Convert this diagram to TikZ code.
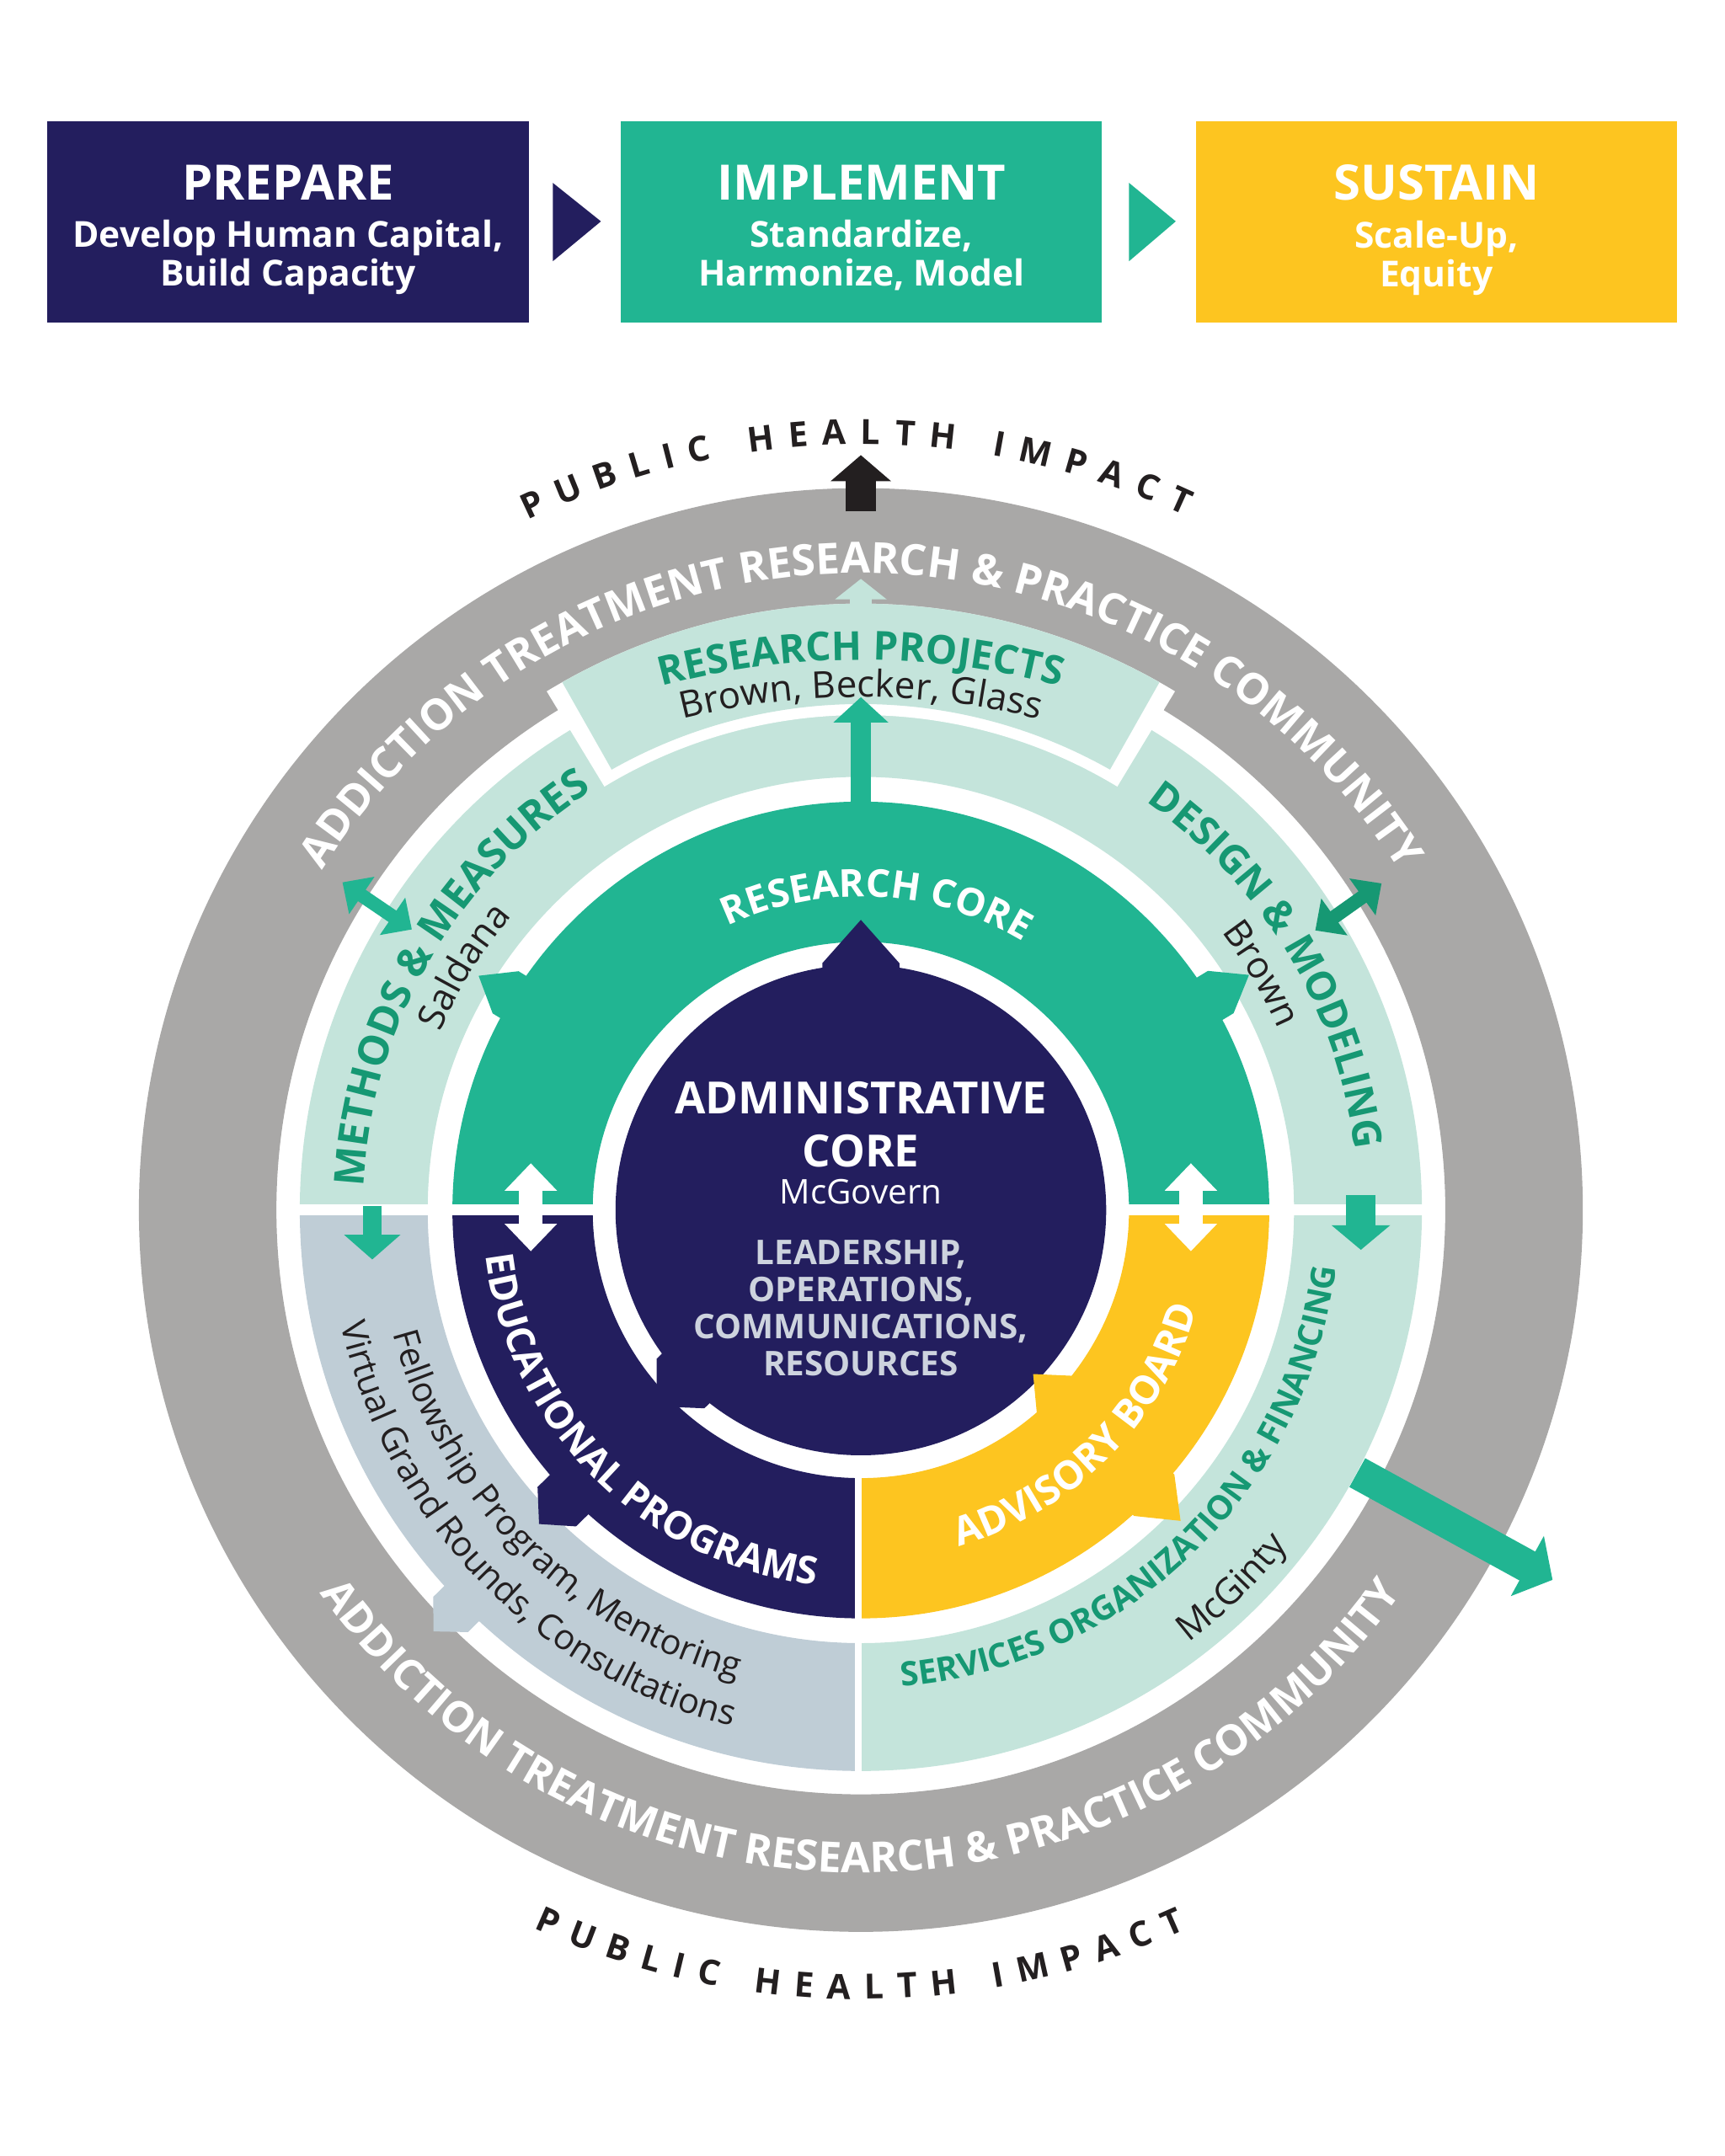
\documentclass[tikz,border=0pt]{standalone}
\usepackage{fontspec}
\setmainfont{Open Sans}
\usetikzlibrary{arrows.meta,decorations.text}

\definecolor{hubnavy}{RGB}{35,30,94}
\definecolor{hubteal}{RGB}{33,181,146}
\definecolor{hubdeep}{RGB}{22,152,115}
\definecolor{hubgold}{RGB}{253,197,32}
\definecolor{hubmint}{RGB}{196,228,219}
\definecolor{hubslate}{RGB}{191,205,214}
\definecolor{hubgray}{RGB}{169,168,167}
\definecolor{hubink}{RGB}{35,31,32}
\definecolor{hubmist}{RGB}{205,211,222}

\newcommand{\pxu}{0.46298pt}
% annular sector: colour, from angle, to angle, inner r, outer r
\newcommand{\ringpart}[5]{\fill[#1] (#2:#5) arc[start angle=#2, end angle=#3, radius=#5] -- (#3:#4) arc[start angle=#3, end angle=#2, radius=#4] -- cycle;}
% tip cut into a ring: colour, angle, foot r, shoulder r, point r, half width
\newcommand{\ringtip}[6]{\fill[#1, rotate=#2] (#3,#6) -- (#4,#6) -- (#5,0) -- (#4,-#6) -- (#3,-#6) -- cycle;}

\tikzset{
  stagebox/.style={minimum width=351*\pxu, minimum height=147*\pxu, inner sep=0pt},
  stagetext/.style={anchor=north, inner sep=0pt, align=center, text=white, font=\fontsize{12.1}{13.2}\selectfont\bfseries},
  arc text/.style={decorate, decoration={text along path, text align=center, text={#1}}},
  fit text/.style={decorate, decoration={text along path, text align=fit to path, text={#1}}},
}

\begin{document}
\begin{tikzpicture}[x=0.016332cm, y=0.016332cm]
\useasboundingbox (0,0) rectangle (1254,1568);

% stages
\node[stagebox, fill=hubnavy] (prepare) at (209.5,1406.5) {};
\node[stagebox, fill=hubteal] (implement) at (626.5,1406.5) {};
\node[stagebox, fill=hubgold] (sustain) at (1044.5,1406.5) {};
\node[stagetext] (prepare text) at (209.5,1448.5) {{\fontsize{16.5}{16.5}\selectfont PREPARE}\\[2.8pt]Develop Human Capital,\\Build Capacity};
\node[stagetext] (implement text) at (626.5,1448.5) {{\fontsize{16.5}{16.5}\selectfont IMPLEMENT}\\[2.8pt]Standardize,\\Harmonize, Model};
\node[stagetext] (sustain text) at (1044.5,1448.5) {{\fontsize{16.5}{16.5}\selectfont SUSTAIN}\\[2.8pt]Scale-Up,\\Equity};
\fill[hubnavy] (402,1435) -- (437,1407) -- (402,1378) -- cycle;
\fill[hubteal] (821,1435) -- (855,1407) -- (821,1378) -- cycle;

\begin{scope}[shift={(626,688)}]
% community ring
\fill[hubgray, even odd rule] (0,0) circle[radius=525] (0,0) circle[radius=425];
% outer band
\ringpart{hubmint}{0}{180}{315}{408}
\ringpart{hubslate}{180}{270}{315}{408}
\ringpart{hubmint}{270}{360}{315}{408}
% research projects
\ringpart{white}{58.8}{121.2}{360}{441}
\ringpart{hubmint}{60.5}{119.5}{368}{441}
% cores
\ringpart{hubteal}{0}{180}{195}{297}
\ringpart{hubnavy}{180}{270}{195}{297}
\ringpart{hubgold}{270}{360}{195}{297}
\fill[white] (-412,-4) rectangle (412,4);
\fill[white] (-4.5,-412) rectangle (0.5,-170);
\node[circle, fill=hubnavy, minimum size=358*\pxu, inner sep=0pt] (admin core) at (0,0) {};

% tips
\ringtip{hubnavy}{90}{170}{179.5}{211}{28}
\ringtip{hubnavy}{223.9}{170}{182}{206}{25}
\ringtip{hubgold}{-43.6}{205}{196}{173}{20}
\ringtip{hubgold}{-44.2}{285}{297.6}{324.3}{21}
\ringtip{hubnavy}{224.3}{285}{309}{327}{20}
\ringtip{hubteal}{148.5}{285}{303}{326}{18}
\ringtip{hubteal}{31.2}{285}{306}{330}{18}
\ringtip{hubslate}{224.6}{400}{419}{436.5}{18}

% arrows
\coordinate (impact foot) at (0,508);
\coordinate (impact head) at (0,549);
\coordinate (projects top) at (0,438);
\coordinate (projects out) at (0,459);
\coordinate (core top) at (0,297);
\coordinate (projects in) at (0,373);
\coordinate (methods in) at (148:385);
\coordinate (methods out) at (147.7:446);
\coordinate (design in) at (31.6:388);
\coordinate (design out) at (32.1:447);
\coordinate (edu up) at (-240,34);
\coordinate (edu down) at (-240,-30);
\coordinate (board up) at (240,34);
\coordinate (board down) at (240,-30);
\coordinate (methods low) at (-355.3,3);
\coordinate (fellows) at (-355.3,-36);
\coordinate (design low) at (363.6,11);
\coordinate (services) at (363.6,-29);
\coordinate (services out) at (361,-191);
\coordinate (reach) at (503,-269);

\draw[hubink, line width=10.42pt, -{Triangle[width=19.91pt,length=8.8pt]}] (impact foot) -- (impact head);
\draw[hubmint, line width=7.41pt, -{Triangle[width=17.13pt,length=6.94pt]}] (projects top) -- (projects out);
\draw[hubteal, line width=6.94pt, -{Triangle[width=18.06pt,length=8.56pt]}] (core top) -- (projects in);
\draw[hubteal, line width=4.63pt, {Triangle[width=14.8pt,length=7.9pt]}-{Triangle[width=14.8pt,length=7.9pt]}] (methods in) -- (methods out);
\draw[hubdeep, line width=4.63pt, {Triangle[width=14.8pt,length=7.9pt]}-{Triangle[width=14.8pt,length=7.9pt]}] (design in) -- (design out);
\draw[white, line width=7.87pt, {Triangle[width=17.13pt,length=9.26pt]}-{Triangle[width=17.13pt,length=9.26pt]}] (edu up) -- (edu down);
\draw[white, line width=7.87pt, {Triangle[width=17.13pt,length=9.26pt]}-{Triangle[width=17.13pt,length=9.26pt]}] (board up) -- (board down);
\draw[hubteal, line width=6.48pt, -{Triangle[width=18.52pt,length=8.33pt]}] (methods low) -- (fellows);
\draw[hubteal, line width=10.1pt, -{Triangle[width=19.4pt,length=8.33pt]}] (design low) -- (services);
\draw[hubteal, line width=11.11pt, -{Triangle[width=22.69pt,length=9.72pt]}] (services out) -- (reach);

% ring texts
\path[arc text={|\fontsize{14.5}{14.5}\selectfont\bfseries\color{white}|ADDICTION TREATMENT RESEARCH {\&} PRACTICE COMMUNITY}] (160:463) arc[start angle=160, end angle=20, radius=463];
\path[arc text={|\fontsize{14.3}{14.3}\selectfont\bfseries\color{white}|ADDICTION TREATMENT RESEARCH {\&} PRACTICE COMMUNITY}] (200:482) arc[start angle=200, end angle=340, radius=482];
\path[fit text={|\fontsize{11.7}{11.7}\selectfont\bfseries\color{hubink}|PUBLIC HEALTH IMPACT}] (115.8:557) arc[start angle=115.8, end angle=65, radius=557];
\path[fit text={|\fontsize{11.7}{11.7}\selectfont\bfseries\color{hubink}|PUBLIC HEALTH IMPACT}] (245.5:574) arc[start angle=245.5, end angle=294.3, radius=574];

\path[shift={(0,-160)}, arc text={|\fontsize{13.5}{13.5}\selectfont\bfseries\color{hubdeep}|RESEARCH PROJECTS}] (120:560) arc[start angle=120, end angle=60, radius=560];
\path[shift={(0,-160)}, arc text={|\fontsize{12.5}{12.5}\selectfont\color{hubink}|Brown, Becker, Glass}] (120:533) arc[start angle=120, end angle=60, radius=533];
\path[arc text={|\fontsize{13}{13}\selectfont\bfseries\color{white}|RESEARCH CORE}] (137:228) arc[start angle=137, end angle=37, radius=228];
\path[arc text={|\fontsize{14}{14}\selectfont\bfseries\color{hubdeep}|METHODS {\&} MEASURES}] (190:362) arc[start angle=190, end angle=110, radius=362];
\path[arc text={|\fontsize{12.5}{12.5}\selectfont\color{hubink}|Saldana}] (188.5:332) arc[start angle=188.5, end angle=108.5, radius=332];
\path[arc text={|\fontsize{13.5}{13.5}\selectfont\bfseries\color{hubdeep}|DESIGN {\&} MODELING}] (71:362) arc[start angle=71, end angle=-9, radius=362];
\path[arc text={|\fontsize{12.5}{12.5}\selectfont\color{hubink}|Brown}] (70.5:331) arc[start angle=70.5, end angle=-9.5, radius=331];
\path[arc text={|\fontsize{13}{13}\selectfont\bfseries\color{white}|EDUCATIONAL PROGRAMS}] (175:275) arc[start angle=175, end angle=275, radius=275];
\path[arc text={|\fontsize{13.4}{13.4}\selectfont\bfseries\color{white}|ADVISORY BOARD}] (265:255) arc[start angle=265, end angle=365, radius=255];
\path[arc text={|\fontsize{11.3}{11.3}\selectfont\bfseries\color{hubdeep}|SERVICES ORGANIZATION {\&} FINANCING}] (264:348) arc[start angle=264, end angle=364, radius=348];
\path[arc text={|\fontsize{12.3}{12.3}\selectfont\color{hubink}|McGinty}] (274.5:395) arc[start angle=274.5, end angle=354.5, radius=395];
\path[arc text={|\fontsize{11.8}{11.8}\selectfont\color{hubink}|Fellowship Program, Mentoring}] (175:352) arc[start angle=175, end angle=275, radius=352];
\path[arc text={|\fontsize{11.8}{11.8}\selectfont\color{hubink}|Virtual Grand Rounds, Consultations}] (174.2:387) arc[start angle=174.2, end angle=274.2, radius=387];

% administrative core
\node[font=\fontsize{15}{17.7}\selectfont\bfseries, text=white, align=center, anchor=north, inner sep=0pt] (admin title) at (0,93.5) {ADMINISTRATIVE\\CORE};
\node[font=\fontsize{11.5}{11.5}\selectfont, text=white, anchor=base, inner sep=0pt] (admin lead) at (0,4.6) {McGovern};
\node[font=\fontsize{11.5}{12.5}\selectfont\bfseries, text=hubmist, align=center, anchor=north, inner sep=0pt] (admin roles) at (0,-21.3) {LEADERSHIP,\\OPERATIONS,\\COMMUNICATIONS,\\RESOURCES};
\end{scope}
\end{tikzpicture}
\end{document}
